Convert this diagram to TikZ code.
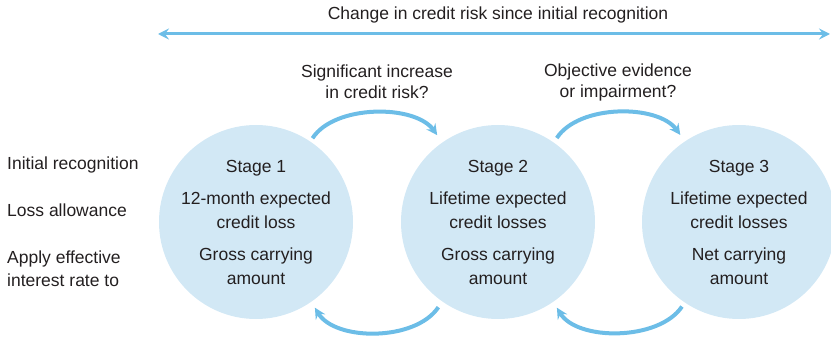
\documentclass[tikz,border=0pt]{standalone}
\usepackage{fontspec}
\setmainfont{Liberation Sans}
\usetikzlibrary{arrows.meta,calc}
\definecolor{circfill}{HTML}{D2E8F5}
\definecolor{arrowblue}{HTML}{6CBDE7}
\definecolor{txt}{HTML}{231F20}
\tikzset{
  stage/.style={circle, fill=circfill, draw=none, minimum size=194pt, inner sep=0pt},
  stagetext/.style={align=center, text=txt, font=\fontsize{17.5}{23.5}\selectfont, inner sep=0pt},
  sidelabel/.style={align=left, anchor=west, text=txt, font=\fontsize{17.5}{23}\selectfont, inner sep=0pt},
  arclabel/.style={align=center, text=txt, font=\fontsize{17.5}{21}\selectfont, inner sep=0pt},
  flow/.style={draw=arrowblue, line width=4pt, -{Stealth[length=11pt,width=11pt,inset=4pt]}},
  axis/.style={draw=arrowblue, line width=3pt, {Stealth[length=11pt,width=11pt,inset=4pt]}-{Stealth[length=11pt,width=11pt,inset=4pt]}}
}
\begin{document}
\begin{tikzpicture}[x=1pt,y=1pt]
\useasboundingbox (0,0) rectangle (831,338);
\clip (0,0) rectangle (831,338);
% circles
\node[stage] (s1) at (256,116) {};
\node[stage] (s2) at (498,116) {};
\node[stage] (s3) at (739,116) {};
% stage texts
\node[stagetext] (t1) at (s1.center) {Stage 1\\[9pt]12-month expected\\credit loss\\[9pt]Gross carrying\\amount};
\node[stagetext] (t2) at (s2.center) {Stage 2\\[9pt]Lifetime expected\\credit losses\\[9pt]Gross carrying\\amount};
\node[stagetext] (t3) at (s3.center) {Stage 3\\[9pt]Lifetime expected\\credit losses\\[9pt]Net carrying\\amount};
% side labels
\node[sidelabel] (l1) at (7,173) {Initial recognition};
\node[sidelabel] (l2) at (7,128) {Loss allowance};
\node[sidelabel] (l3) at (7,69.5) {Apply effective\\interest rate to};
% top axis
\node[arclabel] (top) at (498,323) {Change in credit risk since initial recognition};
\coordinate (axL) at (158,304);
\coordinate (axR) at (830,304);
\draw[axis] (axL) -- (axR);
% arc labels
\node[arclabel] (q1) at (377,256) {Significant increase\\in credit risk?};
\node[arclabel] (q2) at (618,256) {Objective evidence\\or impairment?};
% arc endpoints
\coordinate (u1s) at ($(s1.center)+(56:101)$);
\coordinate (u1e) at ($(s2.center)+(125:106)$);
\coordinate (u2s) at ($(s2.center)+(55:102.5)$);
\coordinate (u2e) at ($(s3.center)+(124:105)$);
\coordinate (d1s) at ($(s2.center)+(235:104)$);
\coordinate (d1e) at ($(s1.center)+(-55.5:104)$);
\coordinate (d2s) at ($(s3.center)+(236:102)$);
\coordinate (d2e) at ($(s2.center)+(-55.5:104)$);
% arcs
\draw[flow] (u1s) .. controls +(22,34) and +(-22,31) .. (u1e);
\draw[flow] (u2s) .. controls +(22,34) and +(-22,31) .. (u2e);
\draw[flow] (d1s) .. controls +(-23,-34.5) and +(20,-33.5) .. (d1e);
\draw[flow] (d2s) .. controls +(-23,-34.5) and +(20,-33.5) .. (d2e);
\end{tikzpicture}
\end{document}
